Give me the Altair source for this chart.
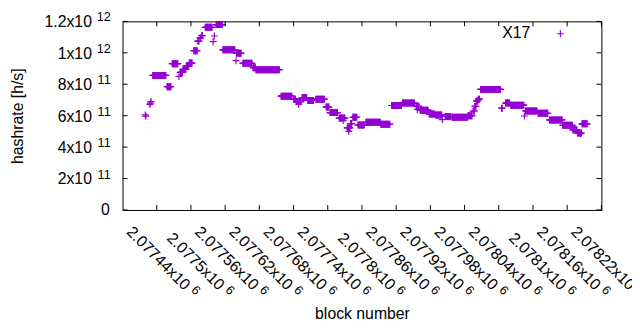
import altair as alt
import pandas as pd

# Runs of consecutive blocks that share one hashrate value (units of 1e11 h/s)
run_start = [2077420, 2077421, 2077428, 2077429, 2077430, 2077433, 2077458, 2077467,
             2077479, 2077481, 2077486, 2077492, 2077497, 2077505, 2077512, 2077516,
             2077519, 2077525, 2077539, 2077541, 2077544, 2077556, 2077579, 2077580,
             2077591, 2077609, 2077614, 2077658, 2077680, 2077685, 2077689, 2077690,
             2077695, 2077705, 2077719, 2077737, 2077744, 2077760, 2077767, 2077768,
             2077774, 2077777, 2077778, 2077780, 2077784, 2077793, 2077807, 2077833,
             2077852, 2077871, 2077895, 2077897, 2077898, 2077902, 2077918, 2077929,
             2077941, 2077946, 2077958, 2077986, 2077995, 2077998, 2078001, 2078004,
             2078008, 2078045, 2078052, 2078061, 2078085, 2078087, 2078109, 2078129,
             2078152, 2078170, 2078178, 2078183, 2078184, 2078186]
run_end = [2077420, 2077421, 2077428, 2077429, 2077430, 2077456, 2077465, 2077477,
           2077479, 2077485, 2077491, 2077496, 2077502, 2077511, 2077514, 2077517,
           2077520, 2077537, 2077539, 2077541, 2077555, 2077577, 2077579, 2077588,
           2077607, 2077613, 2077655, 2077677, 2077683, 2077688, 2077689, 2077693,
           2077703, 2077715, 2077734, 2077742, 2077757, 2077766, 2077767, 2077770,
           2077776, 2077777, 2077779, 2077782, 2077791, 2077804, 2077832, 2077849,
           2077869, 2077892, 2077896, 2077897, 2077900, 2077916, 2077927, 2077940,
           2077941, 2077956, 2077985, 2077993, 2077997, 2078000, 2078003, 2078006,
           2078043, 2078046, 2078059, 2078084, 2078085, 2078107, 2078126, 2078151,
           2078169, 2078177, 2078182, 2078183, 2078185, 2078195]
run_value = [6.05, 5.97, 6.72, 6.80, 6.90, 8.56, 7.84, 9.31,
             8.50, 8.75, 8.95, 9.15, 9.35, 10.13, 10.75, 10.95,
             11.10, 11.62, 10.71, 11.07, 11.80, 10.19, 9.50, 9.97,
             9.33, 9.05, 8.93, 7.24, 7.05, 6.90, 6.73, 6.90,
             7.15, 6.97, 7.05, 6.55, 6.20, 5.85, 5.70, 5.85,
             5.22, 5.00, 5.22, 5.50, 5.90, 5.40, 5.58, 5.45,
             6.65, 6.80, 6.60, 6.40, 6.60, 6.35, 6.10, 6.05,
             5.75, 5.95, 5.90, 6.00, 6.30, 6.60, 6.94, 7.05,
             7.67, 6.48, 6.80, 6.67, 5.98, 6.30, 6.15, 5.73,
             5.39, 5.10, 4.90, 4.85, 4.90, 5.48]
series_name = "X17"

x_tick_values = [2077440, 2077500, 2077560, 2077620, 2077680, 2077740, 2077800,
                 2077860, 2077920, 2077980, 2078040, 2078100, 2078160, 2078220]
x_tick_mantissa = ["2.07744x10", "2.0775x10", "2.07756x10", "2.07762x10", "2.07768x10",
                   "2.07774x10", "2.0778x10", "2.07786x10", "2.07792x10", "2.07798x10",
                   "2.07804x10", "2.0781x10", "2.07816x10", "2.07822x10"]
x_tick_exponent = ["6"] * 14
y_tick_values = [0, 2e11, 4e11, 6e11, 8e11, 1e12, 1.2e12]
y_tick_mantissa = ["0", "2x10", "4x10", "6x10", "8x10", "1x10", "1.2x10"]
y_tick_exponent = ["", "11", "11", "11", "11", "12", "12"]

rows = []
for s, e, v in zip(run_start, run_end, run_value):
    for b in range(s, e + 1):
        rows.append({"block": b, "hashrate": v * 1e11, "series": series_name})
df = pd.DataFrame(rows)

W, H = 485, 191
FONT = "Liberation Sans"
FS = 16
FS_SUP = 12.8
COLOR = "#9400d3"
x_scale = alt.Scale(domain=[2077380, 2078220], nice=False, zero=False)
y_scale = alt.Scale(domain=[0, 1.2e12], nice=False)
plus = "M-1,0L1,0M0,-1L0,1"

x_axis = alt.Axis(values=x_tick_values, tickCount=50, labels=False,
                  ticks=False, domain=False, grid=False,
                  title="block number", titleFont=FONT, titleFontSize=FS,
                  titleFontWeight="normal", titleColor="black",
                  titleY=110, titleBaseline="alphabetic")
y_axis = alt.Axis(values=y_tick_values, tickCount=50, labels=False,
                  ticks=False, domain=False, grid=False,
                  title="hashrate [h/s]", titleFont=FONT, titleFontSize=FS,
                  titleFontWeight="normal", titleColor="black",
                  titleX=-106, titleY=H / 2, titleAlign="center", titleBaseline="middle")

points = alt.Chart(df).mark_point(
    shape=plus, size=50, filled=False, strokeWidth=1.2, opacity=1, color=COLOR
).encode(
    x=alt.X("block:Q", scale=x_scale, axis=x_axis),
    y=alt.Y("hashrate:Q", scale=y_scale, axis=y_axis),
)

# key (legend) drawn in gnuplot style: label first, sample symbol after it
key_df = pd.DataFrame({"series": [series_name]})
key_text = alt.Chart(key_df).mark_text(
    align="right", baseline="middle", font=FONT, fontSize=FS, color="black"
).encode(text="series:N", x=alt.value(413), y=alt.value(11.5))
key_symbol = alt.Chart(key_df).mark_point(
    shape=plus, size=50, filled=False, strokeWidth=1.2, opacity=1, color=COLOR
).encode(x=alt.value(443.5), y=alt.value(12.5))

xt = pd.DataFrame({"block": x_tick_values, "mant": x_tick_mantissa, "expo": x_tick_exponent})
yt = pd.DataFrame({"hashrate": y_tick_values, "mant": y_tick_mantissa, "expo": y_tick_exponent})
TL = 5
bottom_ticks = alt.Chart(xt).mark_rule(color="black", strokeWidth=1).encode(
    x=alt.X("block:Q", scale=x_scale), y=alt.value(H), y2=alt.value(H - TL))
top_ticks = alt.Chart(xt).mark_rule(color="black", strokeWidth=1).encode(
    x=alt.X("block:Q", scale=x_scale), y=alt.value(0), y2=alt.value(TL))
left_ticks = alt.Chart(yt).mark_rule(color="black", strokeWidth=1).encode(
    y=alt.Y("hashrate:Q", scale=y_scale), x=alt.value(0), x2=alt.value(TL))
right_ticks = alt.Chart(yt).mark_rule(color="black", strokeWidth=1).encode(
    y=alt.Y("hashrate:Q", scale=y_scale), x=alt.value(W - TL), x2=alt.value(W))

# x tick labels, rotated 45 degrees, centred under their tick, with a raised exponent
XLAB_Y = H + 47.5
x_mant = alt.Chart(xt).mark_text(
    angle=45, align="right", baseline="middle", dx=44, dy=0,
    font=FONT, fontSize=FS, color="black"
).encode(x=alt.X("block:Q", scale=x_scale), y=alt.value(XLAB_Y), text="mant:N")
x_expo = alt.Chart(xt).mark_text(
    angle=45, align="left", baseline="middle", dx=48.5, dy=-4,
    font=FONT, fontSize=FS_SUP, color="black"
).encode(x=alt.X("block:Q", scale=x_scale), y=alt.value(XLAB_Y), text="expo:N")

# y tick labels with raised exponent, right-aligned as a whole
y_zero = alt.Chart(yt).transform_filter("datum.hashrate == 0").mark_text(
    align="right", baseline="middle", dy=0.5, font=FONT, fontSize=FS, color="black"
).encode(y=alt.Y("hashrate:Q", scale=y_scale), x=alt.value(-13), text="mant:N")
y_mant = alt.Chart(yt).transform_filter("datum.hashrate > 0").mark_text(
    align="right", baseline="middle", dy=1, font=FONT, fontSize=FS, color="black"
).encode(y=alt.Y("hashrate:Q", scale=y_scale), x=alt.value(-31), text="mant:N")
y_expo = alt.Chart(yt).transform_filter("datum.hashrate > 0").mark_text(
    align="right", baseline="middle", dy=-4, font=FONT, fontSize=FS_SUP, color="black"
).encode(y=alt.Y("hashrate:Q", scale=y_scale), x=alt.value(-12), text="expo:N")

chart = alt.layer(points, bottom_ticks, top_ticks, left_ticks, right_ticks,
                  x_mant, x_expo, y_zero, y_mant, y_expo,
                  key_text, key_symbol).properties(
    width=W, height=H,
    padding={"left": 116, "top": 11.5, "right": 31, "bottom": 119.5},
    autosize=alt.AutoSizeParams(type="none"),
    background="white",
).configure(font=FONT).configure_view(stroke="black", strokeWidth=1)

chart.save("out.html", embed_options={"renderer": "svg", "actions": False})
